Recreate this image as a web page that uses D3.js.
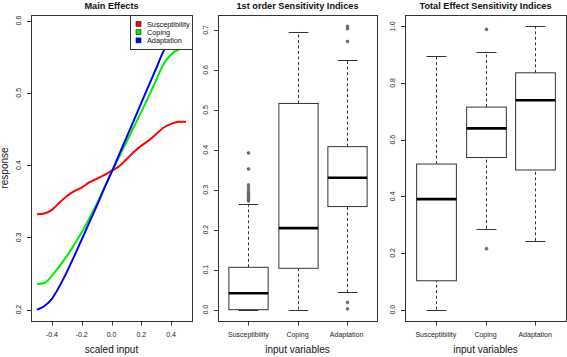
<!DOCTYPE html>
<html>
<head>
<meta charset="utf-8">
<script src="https://cdn.jsdelivr.net/npm/d3@7"></script>
<style>
  body { margin: 0; background: #fff; }
  svg { display: block; font-family: "Liberation Sans", Arial, sans-serif; }
</style>
</head>
<body>
<div id="chart"></div>
<script>
// main effects (scaled input vs response)
const inputX = [-0.5, -0.45, -0.4, -0.35, -0.3, -0.25, -0.2, -0.15, -0.1, -0.05, 0,
                0.05, 0.1, 0.15, 0.2, 0.25, 0.3, 0.35, 0.4, 0.45, 0.5];
const susceptibility = [0.332, 0.333, 0.338, 0.348, 0.357, 0.364, 0.369, 0.376, 0.381, 0.386, 0.392,
                        0.398, 0.408, 0.418, 0.427, 0.434, 0.443, 0.452, 0.457, 0.460, 0.460];
const coping = [0.2355, 0.237, 0.247, 0.260, 0.274, 0.290, 0.307, 0.326, 0.346, 0.368, 0.390,
                0.411, 0.432, 0.453, 0.474, 0.495, 0.518, 0.540, 0.553, 0.560, 0.562];
const adaptation = [0.200, 0.205, 0.215, 0.232, 0.252, 0.274, 0.297, 0.320, 0.343, 0.367, 0.390,
                    0.414, 0.438, 0.462, 0.486, 0.510, 0.534, 0.558, 0.575, 0.586, 0.592];
const seriesNames = ["Susceptibility", "Coping", "Adaptation"];
const seriesColors = ["#ff0000", "#00ee00", "#0000ff"];
const mainXTicks = [-0.4, -0.2, 0.0, 0.2, 0.4];
const mainYTicks = [0.2, 0.3, 0.4, 0.5, 0.6];

// boxplot stats: [lower whisker, q1, median, q3, upper whisker]
const categories = ["Susceptibility", "Coping", "Adaptation"];
const firstOrderStats = [
  [0, 0, 0.041, 0.106, 0.264],
  [0, 0.1035, 0.204, 0.516, 0.695],
  [0.043, 0.258, 0.330, 0.408, 0.626]
];
const firstOrderOutliers = [
  [0.272, 0.276, 0.281, 0.287, 0.292, 0.298, 0.305, 0.312, 0.352, 0.392],
  [],
  [0.002, 0.018, 0.671, 0.703, 0.709]
];
const firstOrderTicks = [0, 0.1, 0.2, 0.3, 0.4, 0.5, 0.6, 0.7];

const totalStats = [
  [0, 0.102, 0.390, 0.514, 0.896],
  [0.286, 0.537, 0.640, 0.715, 0.908],
  [0.243, 0.493, 0.739, 0.836, 1.0]
];
const totalOutliers = [
  [],
  [0.215, 0.989],
  []
];
const totalTicks = [0, 0.2, 0.4, 0.6, 0.8, 1.0];

let width = 567;
let height = 357;
let plotTop = 15, plotBottom = 321;
let ink = "#333";

let svg = d3.select("#chart").append("svg")
    .attr("width", width)
    .attr("height", height);

// R style range: data range stretched by 4% on each side
function rRange(lo, hi) {
    let pad = (hi - lo) * 0.04;
    return [lo - pad, hi + pad];
}

function frame(x0, x1, title, xlab) {
    svg.append("rect")
        .attr("x", x0 + 0.5).attr("y", plotTop + 0.5)
        .attr("width", x1 - x0).attr("height", plotBottom - plotTop)
        .attr("fill", "none").attr("stroke", ink).attr("stroke-width", 1);
    svg.append("text")
        .attr("x", (x0 + x1) / 2).attr("y", 8.5)
        .attr("text-anchor", "middle")
        .attr("font-size", 9.2).attr("font-weight", "bold")
        .attr("fill", "#111")
        .text(title);
    svg.append("text")
        .attr("x", (x0 + x1) / 2).attr("y", 353)
        .attr("text-anchor", "middle")
        .attr("font-size", 10).attr("fill", "#111")
        .text(xlab);
}

function yAxis(x0, y, ticks, fmt) {
    let g = svg.append("g");
    g.selectAll("line").data(ticks).enter().append("line")
        .attr("x1", x0 - 4).attr("x2", x0)
        .attr("y1", d => Math.round(y(d)) + 0.5).attr("y2", d => Math.round(y(d)) + 0.5)
        .attr("stroke", ink);
    g.selectAll("text").data(ticks).enter().append("text")
        .attr("transform", d => "translate(" + (x0 - 10.5) + "," + y(d) + ") rotate(-90)")
        .attr("text-anchor", "middle")
        .attr("font-size", 7).attr("fill", "#222")
        .text(fmt);
}

function xAxis(x, ticks, fmt) {
    let g = svg.append("g");
    g.selectAll("line").data(ticks).enter().append("line")
        .attr("x1", d => Math.round(x(d)) + 0.5).attr("x2", d => Math.round(x(d)) + 0.5)
        .attr("y1", plotBottom).attr("y2", plotBottom + 4.5)
        .attr("stroke", ink);
    g.selectAll("text").data(ticks).enter().append("text")
        .attr("x", d => x(d)).attr("y", 337)
        .attr("text-anchor", "middle")
        .attr("font-size", 7).attr("fill", "#222")
        .text(fmt);
}

// ---- panel 1: main effects
let allMain = susceptibility.concat(coping, adaptation);
let x1 = d3.scaleLinear().domain(rRange(-0.5, 0.5)).range([31, 192]);
let y1 = d3.scaleLinear().domain(rRange(d3.min(allMain), d3.max(allMain))).range([plotBottom, plotTop]);

svg.append("clipPath").attr("id", "clip1")
    .append("rect").attr("x", 31).attr("y", plotTop).attr("width", 161).attr("height", plotBottom - plotTop);

let line = d3.line().curve(d3.curveMonotoneX);
[susceptibility, coping, adaptation].forEach((vals, i) => {
    svg.append("path")
        .datum(vals.map((v, j) => [x1(inputX[j]), y1(v)]))
        .attr("clip-path", "url(#clip1)")
        .attr("d", line)
        .attr("fill", "none")
        .attr("stroke", seriesColors[i])
        .attr("stroke-width", 2);
});

frame(31, 192, "Main Effects", "scaled input");
yAxis(31, y1, mainYTicks, d => d.toFixed(1));
xAxis(x1, mainXTicks, d => d.toFixed(1));

svg.append("text")
    .attr("transform", "translate(8," + ((plotTop + plotBottom) / 2) + ") rotate(-90)")
    .attr("text-anchor", "middle")
    .attr("font-size", 10).attr("fill", "#111")
    .text("response");

// legend
let legend = svg.append("g");
legend.append("rect")
    .attr("x", 130.5).attr("y", plotTop + 0.5)
    .attr("width", 62).attr("height", 34)
    .attr("fill", "#fff").attr("stroke", ink);
legend.selectAll("rect.key").data(seriesNames).enter().append("rect")
    .classed("key", true)
    .attr("x", 136).attr("y", (d, i) => 21.5 + i * 8.2)
    .attr("width", 5).attr("height", 5)
    .attr("fill", (d, i) => seriesColors[i])
    .attr("stroke", "#222").attr("stroke-width", 0.6);
legend.selectAll("text").data(seriesNames).enter().append("text")
    .attr("x", 147).attr("y", (d, i) => 26.6 + i * 8.2)
    .attr("font-size", 7.3).attr("fill", "#111")
    .text(d => d);

// ---- boxplot panels
function boxPanel(x0, xEnd, stats, outliers, ticks, title) {
    let vals = d3.merge(stats.concat(outliers));
    // boxes at 1..3, xlim 0.5..3.5 stretched by 4%
    let x = d3.scaleLinear().domain(rRange(0.5, 3.5)).range([x0, xEnd]);
    let y = d3.scaleLinear().domain(rRange(d3.min(vals), d3.max(vals))).range([plotBottom, plotTop]);
    let bw = x(1.4) - x(0.6);
    let g = svg.append("g");

    stats.forEach((s, i) => {
        let cx = Math.round(x(i + 1)) + 0.5;
        let l = cx - bw / 2;
        // whiskers
        g.append("line")
            .attr("x1", cx).attr("x2", cx).attr("y1", y(s[0])).attr("y2", y(s[1]))
            .attr("stroke", ink).attr("stroke-dasharray", "3,2.5");
        g.append("line")
            .attr("x1", cx).attr("x2", cx).attr("y1", y(s[3])).attr("y2", y(s[4]))
            .attr("stroke", ink).attr("stroke-dasharray", "3,2.5");
        [s[0], s[4]].forEach(v => {
            g.append("line")
                .attr("x1", cx - bw / 4).attr("x2", cx + bw / 4)
                .attr("y1", Math.round(y(v)) + 0.5).attr("y2", Math.round(y(v)) + 0.5)
                .attr("stroke", ink);
        });
        g.append("rect")
            .attr("x", l).attr("y", y(s[3]))
            .attr("width", bw).attr("height", y(s[1]) - y(s[3]))
            .attr("fill", "#fff").attr("stroke", ink);
        g.append("line")
            .attr("x1", l).attr("x2", l + bw)
            .attr("y1", y(s[2])).attr("y2", y(s[2]))
            .attr("stroke", "#000").attr("stroke-width", 2.6);
        g.selectAll("circle.o" + i).data(outliers[i]).enter().append("circle")
            .attr("cx", cx).attr("cy", d => y(d)).attr("r", 1.4)
            .attr("fill", "#777").attr("stroke", "#444").attr("stroke-width", 0.6);
    });

    frame(x0, xEnd, title, "input variables");
    yAxis(x0, y, ticks, d => d.toFixed(1));
    xAxis(x, [1, 2, 3], d => categories[d - 1]);
}

boxPanel(218, 377, firstOrderStats, firstOrderOutliers, firstOrderTicks, "1st order Sensitivity Indices");
boxPanel(405, 566, totalStats, totalOutliers, totalTicks, "Total Effect Sensitivity Indices");
</script>
</body>
</html>
